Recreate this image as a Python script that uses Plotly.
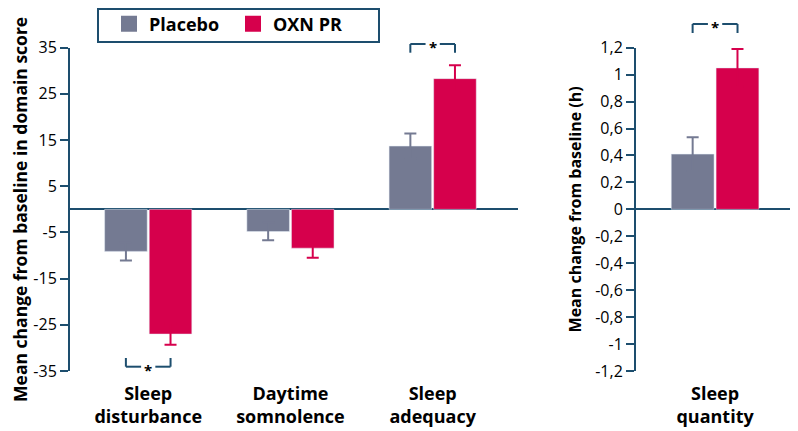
import plotly.graph_objects as go

# domain scores (left panel)
categories = ["Sleep<br>disturbance", "Daytime<br>somnolence", "Sleep<br>adequacy"]
placebo = [-9.1, -4.8, 13.7]
placebo_err = [2.0, 1.9, 2.7]
oxn = [-27.0, -8.4, 28.3]
oxn_err = [2.3, 2.1, 2.9]

# sleep quantity in hours (right panel)
quantity_cat = ["Sleep<br>quantity"]
placebo_h = [0.41]
placebo_h_err = [0.125]
oxn_h = [1.05]
oxn_h_err = [0.14]

left_ticks = [-35, -25, -15, -5, 5, 15, 25, 35]
left_ticktext = ["-35", "-25", "-15", "-5", "5", "15", "25", "35"]
right_ticks = [-1.2, -1, -0.8, -0.6, -0.4, -0.2, 0, 0.2, 0.4, 0.6, 0.8, 1, 1.2]
right_ticktext = ["-1,2", "-1", "-0,8", "-0,6", "-0,4", "-0,2", "0",
                  "0,2", "0,4", "0,6", "0,8", "1", "1,2"]

GREY = '#747a92'
RED = '#d6004c'
TEAL = '#1d4e6e'
FONT = 'Open Sans'

# the page puts the figure 8px in from the window corner
PAD = 8
W, H = 798 - PAD, 431 - PAD


def px(p):
    return (p - PAD) / W


def py(p):
    return 1 - (p - PAD) / H


def err(errs, color):
    # symmetric, same colour as the bar so the inner half disappears in the bar
    return dict(type='data', array=errs, color=color, thickness=2, width=6)


fig = go.Figure()

fig.add_trace(go.Bar(x=categories, y=placebo, marker_color=GREY, showlegend=False,
                     error_y=err(placebo_err, GREY)))
fig.add_trace(go.Bar(x=categories, y=oxn, marker_color=RED, showlegend=False,
                     error_y=err(oxn_err, RED)))
fig.add_trace(go.Bar(x=quantity_cat, y=placebo_h, marker_color=GREY, showlegend=False,
                     xaxis='x2', yaxis='y2', error_y=err(placebo_h_err, GREY)))
fig.add_trace(go.Bar(x=quantity_cat, y=oxn_h, marker_color=RED, showlegend=False,
                     xaxis='x2', yaxis='y2', error_y=err(oxn_h_err, RED)))

# legend entries with bigger squares
fig.add_trace(go.Scatter(x=[None], y=[None], mode='markers', name='Placebo',
                         marker=dict(symbol='square', size=16, color=GREY)))
fig.add_trace(go.Scatter(x=[None], y=[None], mode='markers', name='OXN PR',
                         marker=dict(symbol='square', size=16, color=RED)))

# legend frame
shapes = [dict(type='rect', xref='paper', yref='paper', x0=px(98), x1=px(379),
               y0=py(42), y1=py(9), line=dict(color=TEAL, width=2), layer='below')]
annotations = []


def bracket(xref, center, y_line, y_tick):
    half, gap = 0.157, 0.05
    for a, b in [(center - half, center - gap), (center + gap, center + half)]:
        shapes.append(dict(type='line', xref=xref, yref='paper', x0=a, x1=b,
                           y0=py(y_line), y1=py(y_line), line=dict(color=TEAL, width=2)))
    for xx in (center - half, center + half):
        shapes.append(dict(type='line', xref=xref, yref='paper', x0=xx, x1=xx,
                           y0=py(y_line), y1=py(y_tick), line=dict(color=TEAL, width=2)))
    annotations.append(dict(xref=xref, yref='paper', x=center, y=py(y_line + 3),
                            text='*', showarrow=False, yanchor='middle',
                            font=dict(family=FONT, size=15, color='black', weight='bold')))


bracket('x', 0, 366.7, 358)
bracket('x', 2, 44, 52.7)
bracket('x2', 0, 24, 33)

axis_common = dict(showline=True, linecolor=TEAL, linewidth=2, ticks='outside',
                   tickcolor=TEAL, tickwidth=2, ticklen=8, showgrid=False,
                   zeroline=True, zerolinecolor=TEAL, zerolinewidth=2,
                   tickfont=dict(family=FONT, size=16, color='black'))
xaxis_common = dict(showline=False, showgrid=False, zeroline=False, ticks='',
                    ticklabelstandoff=10,
                    tickfont=dict(family=FONT, size=18, color='black', weight='bold'))

fig.update_layout(
    width=W, height=H,
    margin=dict(l=0, r=0, t=0, b=0, autoexpand=False),
    paper_bgcolor='white', plot_bgcolor='white',
    bargap=0.373, bargroupgap=0.045,
    xaxis=dict(xaxis_common, domain=[px(70), px(518)], range=[-0.55, 2.6]),
    xaxis2=dict(xaxis_common, domain=[px(636), 1.0], range=[-0.553, 0.58]),
    yaxis=dict(axis_common, domain=[py(371), py(47.7)], range=[-35, 35],
               tickvals=left_ticks, ticktext=left_ticktext,
               title=dict(text='Mean change from baseline in domain score', standoff=10,
                          font=dict(family=FONT, size=17.5, color='black', weight='bold'))),
    yaxis2=dict(axis_common, anchor='x2', domain=[py(371), py(47.7)], range=[-1.2, 1.2],
                tickvals=right_ticks, ticktext=right_ticktext,
                title=dict(text='Mean change from baseline (h)', standoff=10,
                           font=dict(family=FONT, size=16, color='black', weight='bold'))),
    legend=dict(orientation='h', x=px(109), y=py(24), xanchor='left', yanchor='middle',
                borderwidth=0, bgcolor='rgba(0,0,0,0)', entrywidth=79,
                font=dict(family=FONT, size=18, color='black', weight='bold')),
    shapes=shapes,
    annotations=annotations,
)

fig.write_html("out.html")
